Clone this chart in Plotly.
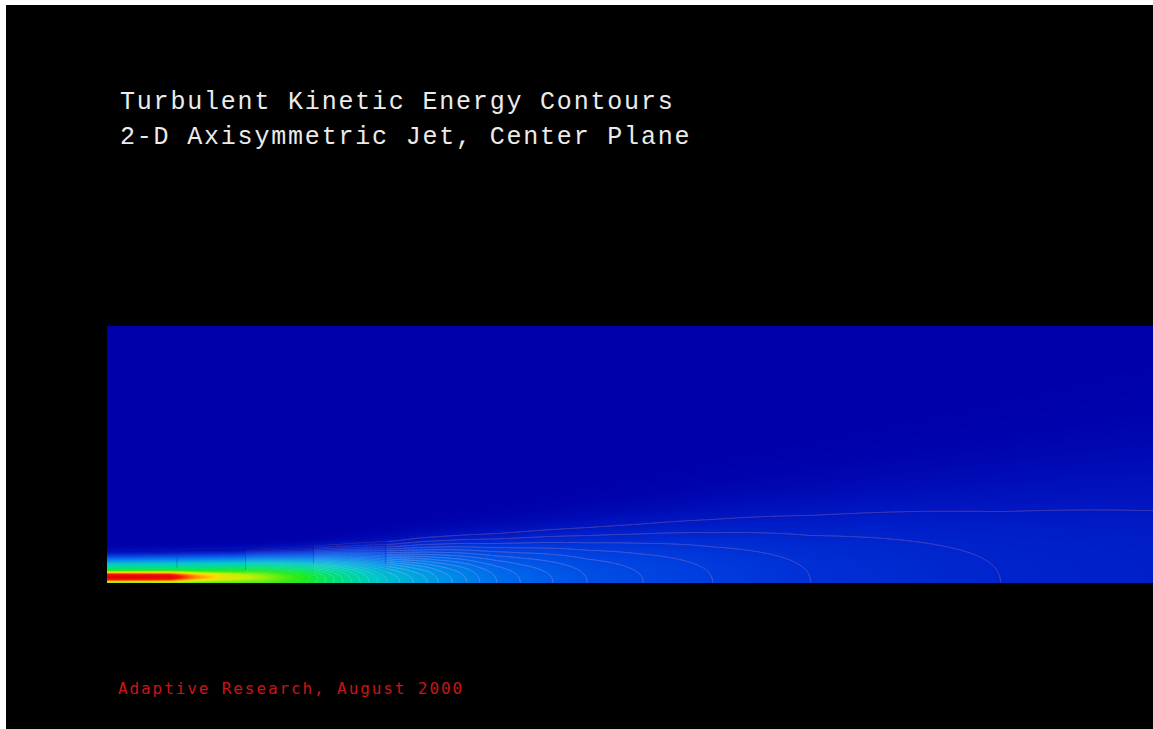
import numpy as np
import plotly.graph_objects as go

# ---- jet description (x and r in nozzle diameters, k normalised) ----
# centreline turbulent kinetic energy at axial stations
AXIS_X = [0, 8, 12, 15, 18, 21.4, 22.4, 23.4, 24.5, 25.3, 26.4, 27.5, 28.5,
          29.8, 31.6, 34.1, 36.7, 41.0, 46.3, 53.8, 68.3, 80]
AXIS_K = [0.55, 0.56, 0.57, 0.54, 0.46, 0.36, 0.34, 0.32, 0.30, 0.28, 0.26,
          0.24, 0.22, 0.20, 0.18, 0.16, 0.14, 0.12, 0.10, 0.08, 0.06, 0.052]

# radial width of the profile and its flatness exponent
WIDTH_X = [0, 10, 15, 22, 30, 40, 50, 65, 80]
WIDTH_B = [1.9, 2.0, 2.1, 2.45, 3.2, 4.3, 5.6, 7.5, 9.6]
SHAPE_X = [0, 10, 18, 24, 80]
SHAPE_M = [4.0, 3.8, 3.0, 2.5, 2.5]

# nozzle-lip shear layer: peak level and thickness along x
SHEAR_X = [0, 4.8, 6.9, 9, 11, 14, 17, 20]
SHEAR_A = [1.0, 0.96, 0.76, 0.64, 0.55, 0.40, 0.24, 0.0]
SHEAR_W = [0.50, 0.52, 0.56, 0.62, 0.68, 0.78, 0.9, 1.0]
SHEAR_R = 0.47

# mesh block interfaces (x/D) and how strongly isolines show in each block
BLOCK_X = [0.0, 5.35, 10.6, 15.8, 21.3]
BLOCK_TINT = [0.03, 0.04, 0.09, 0.15, 0.22]
BLOCK_EDGE_LOW = [1.2, 1.0, 1.55, 1.55]
BLOCK_EDGE_TOP = [2.0, 2.2, 2.8, 2.8]

# domain
X_RANGE = [0, 80]
R_RANGE = [0, 20]

TITLE_1 = "Turbulent Kinetic Energy Contours"
TITLE_2 = "2-D Axisymmetric Jet, Center Plane"
CREDIT = "Adaptive Research, August 2000"

# ---- field on the solution grid ----
x = np.linspace(X_RANGE[0], X_RANGE[1], 401)
r = np.linspace(R_RANGE[0], R_RANGE[1], 261)
X, R = np.meshgrid(x, r)

kc = np.interp(x, AXIS_X, AXIS_K)
b = np.interp(x, WIDTH_X, WIDTH_B)
m = np.interp(x, SHAPE_X, SHAPE_M)
sa = np.interp(x, SHEAR_X, SHEAR_A)
sw = np.interp(x, SHEAR_X, SHEAR_W)

core = kc[None, :] * np.exp(-(R / b[None, :]) ** m[None, :])
lip = sa[None, :] * np.exp(-((R - SHEAR_R) / sw[None, :]) ** 2)
k = np.clip((core ** 4 + lip ** 4) ** 0.25, 0, 1)

# jet-style palette for the fill
FILL_STOPS = [0.00, 0.05, 0.10, 0.18, 0.28, 0.38, 0.48, 0.56, 0.66, 0.74, 0.84, 0.92, 1.00]
FILL_RGB = [(0, 0, 170), (0, 30, 200), (0, 60, 222), (0, 100, 235), (0, 150, 230),
            (0, 200, 200), (0, 225, 120), (30, 235, 20), (190, 240, 0), (255, 220, 0),
            (255, 110, 0), (245, 20, 0), (230, 0, 0)]


def scale(lighten=0.0):
    out = []
    for s, (cr, cg, cb) in zip(FILL_STOPS, FILL_RGB):
        cr, cg, cb = (round(c + (255 - c) * lighten) for c in (cr, cg, cb))
        out.append([s, f"rgb({cr},{cg},{cb})"])
    return out


levels = dict(start=0.04, end=0.98, size=0.02)


def isolines(xs, zs, lighten):
    return go.Contour(
        x=xs, y=r, z=zs, zmin=0, zmax=1, zauto=False,
        colorscale=scale(lighten), showscale=False,
        contours=dict(coloring="lines", showlines=True, **levels),
        line=dict(width=1, smoothing=1), hoverinfo="skip",
    )


traces = [go.Contour(
    x=x, y=r, z=k, zmin=0, zmax=1, zauto=False,
    colorscale=scale(), showscale=False,
    contours=dict(coloring="heatmap", showlines=False, **levels),
    line=dict(width=0), hoverinfo="skip",
)]
for x0, tint in zip(BLOCK_X, BLOCK_TINT):
    sel = x >= x0
    traces.append(isolines(x[sel], k[:, sel], tint))

fig = go.Figure(traces)

# faint block interface lines through the jet edge
for x0, lo, top in zip(BLOCK_X[1:], BLOCK_EDGE_LOW, BLOCK_EDGE_TOP):
    fig.add_shape(type="line", x0=x0, x1=x0, y0=lo, y1=top, xref="x", yref="y",
                  line=dict(color="rgba(0,0,90,0.22)", width=1))

W, H = 1153, 729
L, T, B = 107, 326, 146
PW, PH = W - L, H - T - B


def px(xp, yp):
    return (xp - L) / PW, (H - B - yp) / PH


def label(text, xp, yp, size, color, family, spacing):
    xa, ya = px(xp, yp)
    return dict(
        text=f'<span style="letter-spacing:{spacing}px">{text}</span>',
        x=xa, y=ya, xref="paper", yref="paper",
        xanchor="left", yanchor="middle", showarrow=False,
        font=dict(size=size, color=color, family=family),
    )


fig.update_layout(
    width=W, height=H,
    margin=dict(l=L, r=0, t=T, b=B, pad=0),
    paper_bgcolor="black", plot_bgcolor="black",
    xaxis=dict(range=X_RANGE, visible=False, fixedrange=True),
    yaxis=dict(range=R_RANGE, visible=False, fixedrange=True),
    annotations=[
        label(TITLE_1, 118, 102, 25, "rgb(235,235,235)", "Liberation Mono", 1.8),
        label(TITLE_2, 118, 137, 25, "rgb(235,235,235)", "Liberation Mono", 1.8),
        label(CREDIT, 116, 688, 16, "rgb(205,20,20)", "DejaVu Sans Mono", 1.9),
    ],
)
fig.add_shape(type="rect", xref="paper", yref="paper", layer="above",
              x0=px(0, 0)[0], x1=px(6, 0)[0], y0=px(0, H)[1], y1=px(0, 0)[1],
              fillcolor="white", line_width=0)
fig.add_shape(type="rect", xref="paper", yref="paper", layer="above",
              x0=px(0, 0)[0], x1=px(W, 0)[0], y0=px(0, 5)[1], y1=px(0, 0)[1],
              fillcolor="white", line_width=0)

fig.write_html("out.html", config={"displayModeBar": False, "staticPlot": True})
